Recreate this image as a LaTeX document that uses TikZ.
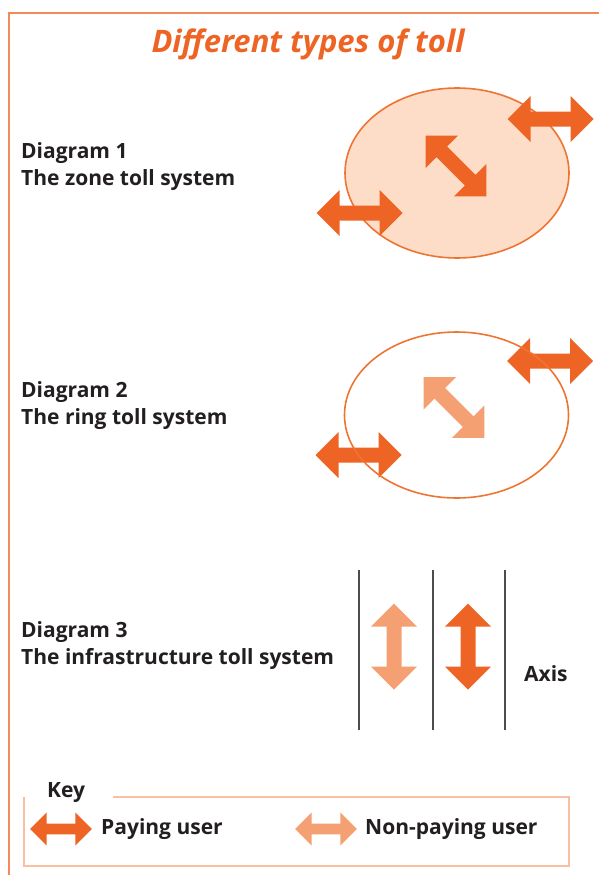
\documentclass[tikz,border=0pt]{standalone}
\usepackage{fontspec}
\setmainfont{Open Sans}
\definecolor{paycol}{RGB}{238,100,37}
\definecolor{nonpaycol}{RGB}{245,160,114}
\definecolor{peach}{RGB}{253,220,200}
\definecolor{ellcol}{RGB}{238,116,50}
\definecolor{framecol}{RGB}{242,138,90}
\definecolor{keycol}{RGB}{249,191,160}
\definecolor{txtcol}{RGB}{35,31,32}
\definecolor{axiscol}{RGB}{77,77,77}
\tikzset{
  pics/dblarrow/.style={code={
    \fill[#1] (-43,0) -- (-20,-23) -- (-20,-7.5) -- (20,-7.5) -- (20,-23) -- (43,0)
      -- (20,23) -- (20,7.5) -- (-20,7.5) -- (-20,23) -- cycle;}},
  lbl/.style={anchor=west, inner sep=0pt, text=txtcol, font=\fontsize{21}{27}\selectfont\bfseries, align=left},
  ell/.style={draw=ellcol, line width=1.6pt},
  axisline/.style={draw=axiscol, line width=2pt},
}
\begin{document}
\begin{tikzpicture}[x=1pt,y=-1pt]
\useasboundingbox (0,0) rectangle (599,875);
% frame
\draw[framecol, line width=1.8pt] (9,875) -- (9,13) -- (599,13);
% title
\node[text=paycol, font=\fontsize{31}{36}\selectfont\bfseries\itshape] (title) at (308,44) {Different types of toll};

% Diagram 1
\node[lbl] (d1) at (21,167) {Diagram 1\\The zone toll system};
\draw[ell, fill=peach] (457,173) ellipse [x radius=112, y radius=85];
\pic (d1a) at (550.5,119) {dblarrow=paycol};
\pic (d1b) at (359.5,213) {dblarrow=paycol};
\pic[rotate=-45] (d1c) at (456,166) {dblarrow=paycol};

% Diagram 2
\node[lbl] (d2) at (21,406) {Diagram 2\\The ring toll system};
\pic (d2a) at (550,361) {dblarrow=paycol};
\pic (d2b) at (358.5,455) {dblarrow=paycol};
\pic[rotate=-45] (d2c) at (454,407.5) {dblarrow=nonpaycol};
\draw[ell] (456.5,415) ellipse [x radius=112, y radius=83];

% Diagram 3
\node[lbl] (d3) at (21,646) {Diagram 3\\The infrastructure toll system};
\draw[axisline] (359,570) -- (359,730);
\draw[axisline] (433,570) -- (433,730);
\draw[axisline] (505,570) -- (505,730);
\pic[rotate=90] (d3a) at (394,646.5) {dblarrow=nonpaycol};
\pic[rotate=90] (d3b) at (468,646.5) {dblarrow=paycol};
\node[lbl] (axis) at (524,674) {Axis};

% Key
\draw[keycol, line width=1.4pt] (113,797) -- (569,797) -- (569,866) -- (24,866) -- (24,797);
\node[lbl] (key) at (47,793) {Key};
\pic[scale=0.72] (k1) at (61,829) {dblarrow=paycol};
\node[lbl] (paying) at (101,829) {Paying user};
\pic[scale=0.72] (k2) at (326,829) {dblarrow=nonpaycol};
\node[lbl] (nonpaying) at (365,829) {Non-paying user};
\end{tikzpicture}
\end{document}
